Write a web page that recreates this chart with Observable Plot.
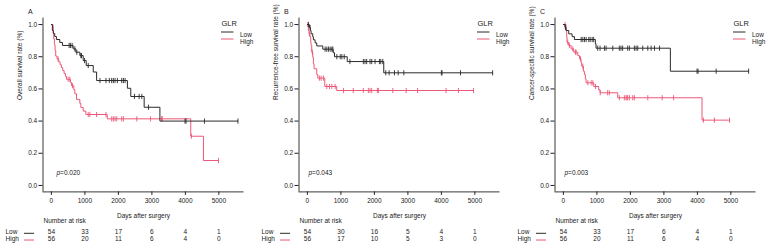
<!DOCTYPE html>
<html>
<head>
<meta charset="utf-8">
<script src="https://cdn.jsdelivr.net/npm/d3@7"></script>
<script src="https://cdn.jsdelivr.net/npm/@observablehq/plot@0.6"></script>
<style>
  html, body { margin: 0; padding: 0; background: #fff; }
  #chart { display: flex; width: 768px; height: 251px; overflow: hidden; }
  #chart svg { display: block; flex: none; }
</style>
</head>
<body>
<div id="chart"></div>
<script>
// Kaplan–Meier estimates by GLR group.
// *Time: event times (days); *Surv: survival just after each event; *Censor: censored follow-up times.

// A — overall survival
const osLowTime = [0, 30, 60, 100, 150, 250, 330, 650, 730, 850, 950, 1040, 1250, 1350, 2270, 2370, 2770, 3240];
const osLowSurv = [1, 0.963, 0.944, 0.926, 0.907, 0.889, 0.870, 0.849, 0.828, 0.807, 0.776, 0.745, 0.705, 0.652, 0.604, 0.553, 0.486, 0.400];
const osLowCensor = [530, 570, 620, 700, 760, 880, 900, 990, 1100, 1450, 1630, 1730, 1800, 1850, 1900, 1970, 2100, 2150, 2200, 2480, 2620, 2700, 2900, 3990, 4020, 4570, 5570];

const osHighTime = [0, 40, 55, 70, 90, 110, 130, 170, 220, 260, 300, 340, 380, 420, 450, 570, 600, 670, 700, 750, 850, 880, 950, 1030, 1667, 4160, 4540];
const osHighSurv = [1, 0.982, 0.946, 0.911, 0.875, 0.839, 0.804, 0.786, 0.768, 0.750, 0.732, 0.714, 0.696, 0.678, 0.660, 0.640, 0.620, 0.595, 0.570, 0.535, 0.510, 0.485, 0.462, 0.441, 0.414, 0.306, 0.155];
const osHighCensor = [50, 200, 500, 550, 630, 1100, 1150, 1350, 1630, 1800, 1850, 1900, 1950, 2100, 2150, 2550, 2960, 3290, 3310, 4180, 4990];

// B — recurrence-free survival
const rfsLowTime = [0, 60, 90, 110, 160, 180, 230, 280, 460, 770, 810, 1190, 2280];
const rfsLowSurv = [1, 0.981, 0.962, 0.943, 0.924, 0.905, 0.886, 0.867, 0.847, 0.825, 0.800, 0.770, 0.700];
const rfsLowCensor = [30, 80, 530, 580, 630, 680, 730, 760, 880, 980, 1030, 1100, 1270, 1670, 1720, 1770, 1870, 1920, 2020, 2150, 2190, 2250, 2340, 2440, 2600, 2710, 2880, 4000, 4020, 4570, 5530];

const rfsHighTime = [0, 30, 50, 80, 100, 110, 130, 160, 180, 200, 280, 310, 520, 876];
const rfsHighSurv = [1, 0.963, 0.942, 0.921, 0.890, 0.870, 0.828, 0.797, 0.756, 0.725, 0.689, 0.667, 0.615, 0.590];
const rfsHighCensor = [20, 60, 150, 360, 410, 480, 580, 660, 730, 830, 1080, 1370, 1670, 1820, 1870, 1920, 2090, 2120, 2550, 2950, 3290, 4140, 4510, 4960];

// C — cancer-specific survival
const cssLowTime = [0, 50, 80, 160, 260, 330, 955, 975, 3194];
const cssLowSurv = [1, 0.983, 0.963, 0.942, 0.925, 0.907, 0.880, 0.853, 0.710];
const cssLowCensor = [60, 530, 580, 630, 680, 760, 800, 860, 905, 1025, 1095, 1225, 1275, 1475, 1670, 1720, 1770, 1920, 1970, 2120, 2170, 2220, 2370, 2520, 2620, 2720, 2870, 3990, 4020, 4560, 5530];

const cssHighTime = [0, 80, 100, 110, 160, 230, 310, 430, 480, 527, 547, 597, 627, 657, 677, 906, 1055, 1095, 1622, 4139];
const cssHighSurv = [1, 0.963, 0.921, 0.890, 0.870, 0.849, 0.828, 0.807, 0.787, 0.766, 0.741, 0.710, 0.689, 0.663, 0.638, 0.615, 0.594, 0.576, 0.545, 0.406];
const cssHighCensor = [50, 130, 180, 280, 360, 380, 510, 580, 730, 830, 880, 960, 1100, 1320, 1370, 1670, 1820, 1870, 1900, 1920, 1970, 2070, 2120, 2520, 2950, 3290, 4180, 4510, 4960];

// Number at risk
const riskTimes = [0, 1000, 2000, 3000, 4000, 5000];
const osRiskLow = [54, 33, 17, 6, 4, 1];
const osRiskHigh = [56, 20, 11, 6, 4, 0];
const rfsRiskLow = [54, 30, 16, 5, 4, 1];
const rfsRiskHigh = [56, 17, 10, 5, 3, 0];
const cssRiskLow = [54, 33, 17, 6, 4, 1];
const cssRiskHigh = [56, 20, 11, 6, 4, 0];

// Axes
const xTicks = [0, 1000, 2000, 3000, 4000, 5000];
const yTicks = [0, 0.2, 0.4, 0.6, 0.8, 1.0];
const groupNames = ["Low", "High"];
const legendTitle = "GLR";
const xTitle = "Days after surgery";
const riskTitle = "Number at risk";

const font = "'Liberation Sans', Arial, Helvetica, sans-serif";
const ink = "#222";
const lowColor = "#2a2a2a";
const highColor = "#ec5877";

// Short vertical stroke used to mark censored observations
const censorTick = {
  draw(context, size) {
    const r = Math.sqrt(size / Math.PI);
    context.moveTo(0, -r);
    context.lineTo(0, r);
  }
};

function survivalAt(time, surv, t) {
  let s = surv[0];
  for (let i = 0; i < time.length; i++) if (time[i] <= t) s = surv[i];
  return s;
}

function buildCurve(time, surv, censor) {
  const end = Math.max(time[time.length - 1], ...censor);
  const steps = time.map((t, i) => ({t, s: surv[i]}));
  steps.push({t: end, s: surv[surv.length - 1]});
  const marks = censor.map(t => ({t, s: survivalAt(time, surv, t)}));
  return {steps, marks};
}

// Colour keys for the legend and the at-risk rows, placed relative to the frame
function keyLines(index, scales, values, dims) {
  const left = dims.marginLeft;
  const right = dims.width - dims.marginRight;
  const top = dims.marginTop;
  const bottom = dims.height - dims.marginBottom;
  const g = d3.create("svg:g").attr("fill", "none").attr("stroke-width", 1);
  [[lowColor, 0], [highColor, 7]].forEach(([color, off]) => {
    g.append("line").attr("stroke", color)
      .attr("x1", right - 22.5).attr("x2", right - 10)
      .attr("y1", top + 14.4 + off).attr("y2", top + 14.4 + off);
    g.append("line").attr("stroke", color)
      .attr("x1", left - 18.5).attr("x2", left - 8.5)
      .attr("y1", bottom + 41.9 + off * 0.96).attr("y2", bottom + 41.9 + off * 0.96);
  });
  return g.node();
}

function panel({letter, yTitle, pValue, pDx, low, high, riskLow, riskHigh}) {
  const lo = buildCurve(...low);
  const hi = buildCurve(...high);
  const riskLowRows = riskTimes.map((t, i) => ({t, n: String(riskLow[i])}));
  const riskHighRows = riskTimes.map((t, i) => ({t, n: String(riskHigh[i])}));
  const txt = {fill: ink, fontSize: 6.5};
  return Plot.plot({
    width: 256,
    height: 251,
    marginLeft: 42.5,
    marginRight: 12.5,
    marginTop: 17.6,
    marginBottom: 59.6,
    style: {fontFamily: font, fontSize: "6.5px", color: ink, background: "#fff", overflow: "visible"},
    x: {domain: [-250, 5750], ticks: xTicks, tickSize: 3.5, tickPadding: 2.5, tickFormat: d3.format("d"), label: null},
    y: {domain: [-0.04, 1.04], ticks: yTicks, tickSize: 4, tickPadding: 1.8, tickFormat: d3.format(".1f"), label: null},
    marks: [
      Plot.ruleX([-250], {stroke: ink, strokeWidth: 0.9}),
      Plot.ruleY([-0.04], {stroke: ink, strokeWidth: 0.9}),
      Plot.line(hi.steps, {x: "t", y: "s", curve: "step-after", stroke: highColor, strokeWidth: 1}),
      Plot.dot(hi.marks, {x: "t", y: "s", symbol: censorTick, r: 2.6, stroke: highColor, fill: "none", strokeWidth: 0.9}),
      Plot.line(lo.steps, {x: "t", y: "s", curve: "step-after", stroke: lowColor, strokeWidth: 1}),
      Plot.dot(lo.marks, {x: "t", y: "s", symbol: censorTick, r: 2.6, stroke: lowColor, fill: "none", strokeWidth: 0.9}),
      // panel letter and axis titles
      Plot.text([letter], {frameAnchor: "top-left", textAnchor: "start", dx: -15, dy: -8.6, fill: ink, fontSize: 7}),
      Plot.text([yTitle], {frameAnchor: "left", rotate: -90, dx: -23, dy: -5, ...txt}),
      Plot.text([xTitle], {frameAnchor: "bottom", dy: 25.6, ...txt}),
      // log-rank p value
      Plot.text(["p"], {frameAnchor: "bottom-left", textAnchor: "start", dx: pDx, dy: -17.4, fontStyle: "italic", ...txt}),
      Plot.text([pValue], {frameAnchor: "bottom-left", textAnchor: "start", dx: pDx + 3.6, dy: -17.4, ...txt}),
      // legend
      Plot.text([legendTitle], {frameAnchor: "top-right", textAnchor: "start", dx: -22.5, dy: 2.4, fill: ink, fontSize: 7.5}),
      Plot.text([groupNames[0]], {frameAnchor: "top-right", textAnchor: "start", dx: -4, dy: 14.4, ...txt}),
      Plot.text([groupNames[1]], {frameAnchor: "top-right", textAnchor: "start", dx: -4, dy: 21.4, ...txt}),
      // number at risk table
      Plot.text([riskTitle], {frameAnchor: "bottom-left", textAnchor: "start", dx: 0.5, dy: 30.6, ...txt}),
      Plot.text([groupNames[0]], {frameAnchor: "bottom-left", textAnchor: "start", dx: -37.5, dy: 41.9, ...txt}),
      Plot.text([groupNames[1]], {frameAnchor: "bottom-left", textAnchor: "start", dx: -37.5, dy: 48.6, ...txt}),
      Plot.text(riskLowRows, {x: "t", text: "n", frameAnchor: "bottom", dy: 41.9, ...txt}),
      Plot.text(riskHighRows, {x: "t", text: "n", frameAnchor: "bottom", dy: 48.6, ...txt}),
      keyLines
    ]
  });
}

const panels = [
  {letter: "A", yTitle: "Overall survival rate (%)", pValue: "=0.020", pDx: 13.5,
   low: [osLowTime, osLowSurv, osLowCensor], high: [osHighTime, osHighSurv, osHighCensor],
   riskLow: osRiskLow, riskHigh: osRiskHigh},
  {letter: "B", yTitle: "Recurrence-free survival rate (%)", pValue: "=0.043", pDx: 9.5,
   low: [rfsLowTime, rfsLowSurv, rfsLowCensor], high: [rfsHighTime, rfsHighSurv, rfsHighCensor],
   riskLow: rfsRiskLow, riskHigh: rfsRiskHigh},
  {letter: "C", yTitle: "Cancer-specific survival rate (%)", pValue: "=0.003", pDx: 9.5,
   low: [cssLowTime, cssLowSurv, cssLowCensor], high: [cssHighTime, cssHighSurv, cssHighCensor],
   riskLow: cssRiskLow, riskHigh: cssRiskHigh}
];

const chart = document.getElementById("chart");
panels.forEach(p => chart.appendChild(panel(p)));
</script>
</body>
</html>
